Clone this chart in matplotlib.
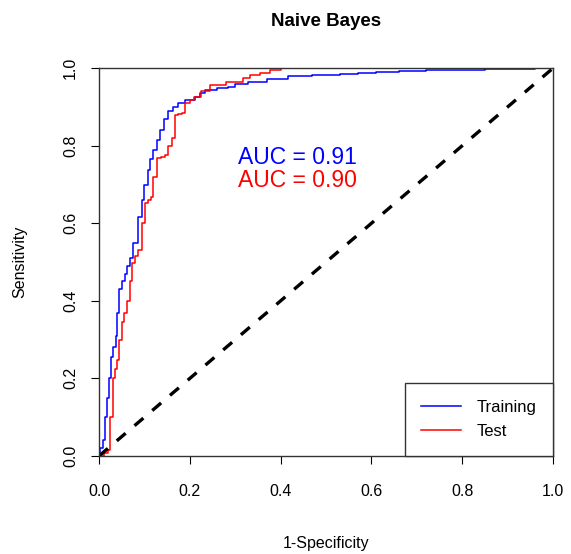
import matplotlib
matplotlib.use('Agg')
import matplotlib.pyplot as plt

plt.rcParams['font.family'] = ['Liberation Sans', 'DejaVu Sans']

# ROC curve points (1-specificity, sensitivity)
train_fpr = [0.0, 0.002, 0.008, 0.013, 0.018, 0.022, 0.026, 0.031, 0.037, 0.040, 0.044,
             0.050, 0.057, 0.062, 0.068, 0.075, 0.086, 0.095, 0.100, 0.108, 0.113, 0.119,
             0.127, 0.134, 0.143, 0.152, 0.163, 0.174, 0.190, 0.211, 0.222, 0.233, 0.260,
             0.284, 0.300, 0.328, 0.370, 0.416, 0.470, 0.53, 0.57, 0.61, 0.66, 0.72, 0.85,
             0.96, 1.0]
train_tpr = [0.0, 0.02, 0.04, 0.10, 0.15, 0.20, 0.255, 0.28, 0.31, 0.37, 0.43,
             0.45, 0.47, 0.49, 0.51, 0.55, 0.616, 0.66, 0.70, 0.737, 0.765, 0.79,
             0.815, 0.84, 0.87, 0.89, 0.90, 0.91, 0.918, 0.925, 0.935, 0.943, 0.948,
             0.951, 0.958, 0.964, 0.972, 0.979, 0.982, 0.985, 0.988, 0.99, 0.993, 0.995, 0.997,
             1.0, 1.0]

test_fpr = [0.0, 0.012, 0.020, 0.025, 0.031, 0.036, 0.040, 0.045, 0.050, 0.056, 0.062,
            0.068, 0.073, 0.080, 0.086, 0.094, 0.101, 0.108, 0.114, 0.120, 0.128, 0.137,
            0.145, 0.152, 0.160, 0.167, 0.175, 0.183, 0.190, 0.200, 0.210, 0.225, 0.245,
            0.280, 0.317, 0.333, 0.355, 0.377, 0.40, 1.0]
test_tpr = [0.0, 0.008, 0.015, 0.10, 0.20, 0.225, 0.247, 0.30, 0.345, 0.37, 0.40,
            0.45, 0.497, 0.515, 0.53, 0.60, 0.652, 0.66, 0.668, 0.72, 0.768, 0.772,
            0.776, 0.80, 0.82, 0.879, 0.881, 0.884, 0.91, 0.918, 0.925, 0.94, 0.956,
            0.965, 0.974, 0.982, 0.988, 0.995, 1.0, 1.0]

ticks = [0.0, 0.2, 0.4, 0.6, 0.8, 1.0]
tick_labels = ['0.0', '0.2', '0.4', '0.6', '0.8', '1.0']
auc_train = 0.91
auc_test = 0.90

fig = plt.figure(figsize=(5.71, 5.54), dpi=100)
ax = fig.add_axes([0.1734, 0.1769, 0.795, 0.700])

ax.plot(train_fpr, train_tpr, color='#0000ff', lw=1.1, label='Training',
        drawstyle='steps-post')
ax.plot(test_fpr, test_tpr, color='#ff0000', lw=1.1, label='Test',
        drawstyle='steps-post')
ax.plot([0, 1], [0, 1], color='black', lw=2.4, ls=(0, (3.5, 3.5)))

ax.set_xlim(0, 1)
ax.set_ylim(0, 1)
ax.set_xticks(ticks)
ax.set_xticklabels(tick_labels)
ax.set_yticks(ticks)
ax.set_yticklabels(tick_labels, rotation=90, va='center')
ax.tick_params(direction='out', length=6, width=0.8, labelsize=11.5)
ax.tick_params(axis='x', pad=14)
ax.tick_params(axis='y', pad=9)
for sp in ax.spines.values():
    sp.set_color('#333333')
    sp.set_linewidth(1.0)

ax.set_xlabel('1-Specificity', fontsize=11.5, labelpad=27)
ax.set_ylabel('Sensitivity', fontsize=11.5, labelpad=26)
ax.set_title('Naive Bayes', fontsize=13.5, fontweight='bold', pad=30.5)

ax.text(0.438, 0.77, f'AUC = {auc_train:.2f}', color='#0000ff', fontsize=16.5,
        ha='center', va='center')
ax.text(0.438, 0.711, f'AUC = {auc_test:.2f}', color='#ff0000', fontsize=16.5,
        ha='center', va='center')

leg = ax.legend(loc='lower right', fontsize=12, fancybox=False, framealpha=1,
                borderaxespad=0, handlelength=2.4, handletextpad=0.9,
                borderpad=1.0, labelspacing=0.55)
leg.get_frame().set_edgecolor('#333333')
leg.get_frame().set_linewidth(1.0)

fig.savefig('out.png', dpi=100)
